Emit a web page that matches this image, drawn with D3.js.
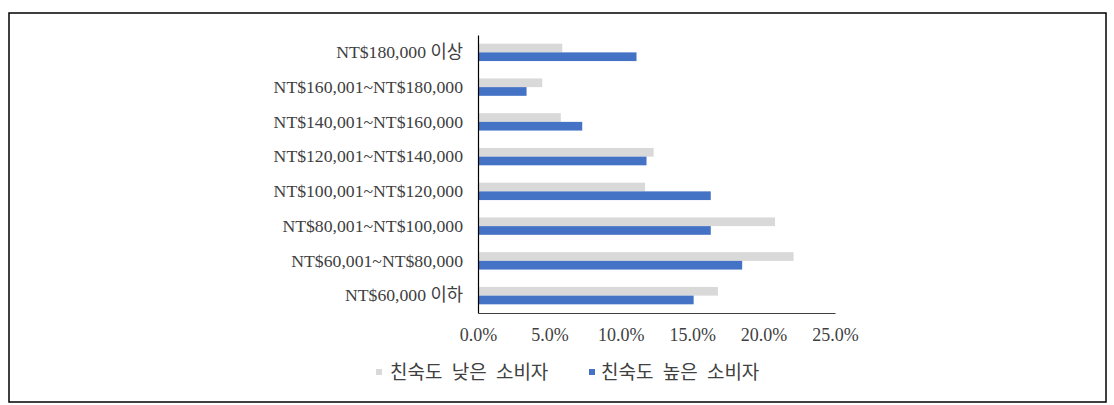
<!DOCTYPE html>
<html>
<head>
<meta charset="utf-8">
<script src="https://cdn.jsdelivr.net/npm/d3@7"></script>
<style>
  html, body { margin: 0; padding: 0; background: #fff; }
  svg { display: block; }
  text { font-family: "Liberation Serif", "Noto Sans CJK KR", serif; fill: #404040; }
</style>
</head>
<body>
<svg id="chart" width="1114" height="405"></svg>
<script>
const categories = [
  "NT$180,000 이상",
  "NT$160,001~NT$180,000",
  "NT$140,001~NT$160,000",
  "NT$120,001~NT$140,000",
  "NT$100,001~NT$120,000",
  "NT$80,001~NT$100,000",
  "NT$60,001~NT$80,000",
  "NT$60,000 이하"
];
const seriesNames = ["친숙도 낮은 소비자", "친숙도 높은 소비자"];
const lowFamiliarity = [5.9, 4.5, 5.8, 12.3, 11.7, 20.8, 22.1, 16.8];
const highFamiliarity = [11.1, 3.4, 7.3, 11.8, 16.3, 16.3, 18.5, 15.1];
const xTicks = [0, 5, 10, 15, 20, 25];
const colors = ["#d9d9d9", "#4472c4"];

const svg = d3.select("#chart");

// outer frame
svg.append("rect")
  .attr("x", 9).attr("y", 13).attr("width", 1097).attr("height", 389)
  .attr("fill", "none").attr("stroke", "#000").attr("stroke-width", 1.5);

const mLeft = 478, mRight = 835, mTop = 35, mBottom = 313;

const x = d3.scaleLinear().domain([0, 25]).range([mLeft, mRight]);
const y = d3.scaleBand().domain(categories).range([mTop, mBottom])
  .paddingInner(0.5).paddingOuter(0.25);
const ySub = d3.scaleBand().domain([0, 1]).range([0, y.bandwidth()]);

const data = categories.map((c, i) => ({ c, vals: [lowFamiliarity[i], highFamiliarity[i]] }));

const g = svg.append("g");
data.forEach(d => {
  d.vals.forEach((v, k) => {
    g.append("rect")
      .attr("x", x(0))
      .attr("y", y(d.c) + ySub(k))
      .attr("width", x(v) - x(0))
      .attr("height", ySub.bandwidth())
      .attr("fill", colors[k]);
  });
});

// y axis
const yAxis = d3.axisLeft(y).tickSize(0).tickPadding(15);
const yg = svg.append("g").attr("transform", `translate(${mLeft},0)`).call(yAxis);
yg.select(".domain").attr("stroke", "#000").attr("stroke-width", 1.2);
yg.selectAll("text").style("font-size", "17.7px").attr("fill", "#404040");

// x axis
const xAxis = d3.axisBottom(x).tickValues(xTicks).tickSize(0).tickPadding(15)
  .tickFormat(d => d3.format(".1f")(d) + "%");
const xg = svg.append("g").attr("transform", `translate(0,${mBottom})`).call(xAxis);
xg.select(".domain").attr("stroke", "#404040").attr("stroke-width", 1.2);
xg.selectAll("text").style("font-size", "18px").attr("fill", "#404040");

// legend
const legendItems = [
  { name: seriesNames[0], color: colors[0], sx: 376, tx: 390 },
  { name: seriesNames[1], color: colors[1], sx: 589, tx: 601 }
];
legendItems.forEach(it => {
  svg.append("rect").attr("x", it.sx).attr("y", 369).attr("width", 6).attr("height", 6).attr("fill", it.color);
  svg.append("text").attr("x", it.tx).attr("y", 379)
    .style("font-family", "'Noto Sans CJK KR', sans-serif")
    .style("font-size", "19px").style("word-spacing", "5px")
    .attr("fill", "#404040")
    .text(it.name);
});
</script>
</body>
</html>
